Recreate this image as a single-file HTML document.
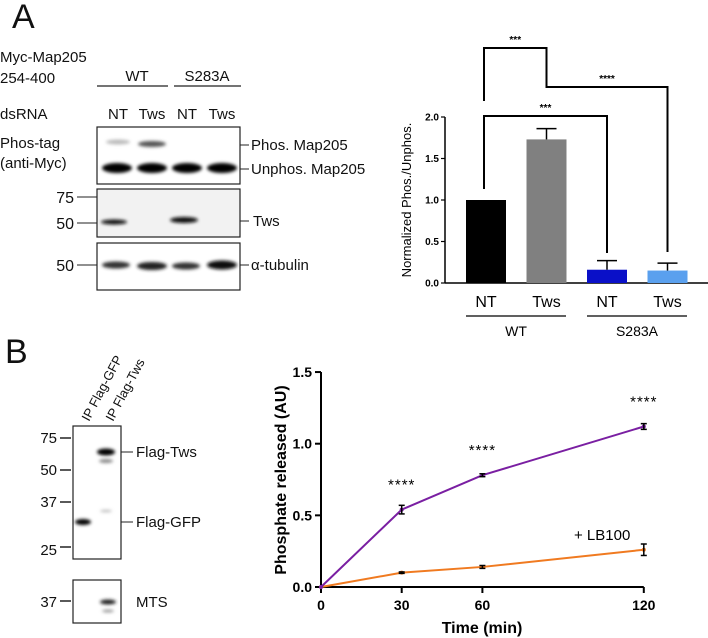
<!DOCTYPE html>
<html><head><meta charset="utf-8"><style>
body{margin:0;background:#fff}
svg{display:block;font-family:"Liberation Sans",sans-serif}
</style></head><body>
<svg width="708" height="638" viewBox="0 0 708 638">
<defs>
<filter id="bl" x="-20%" y="-100%" width="140%" height="300%"><feGaussianBlur stdDeviation="1.6"/></filter>
</defs>
<!-- Panel A blots -->
<g font-size="15" fill="#111">
<text x="12" y="28" font-size="34">A</text>
<text x="0" y="62">Myc-Map205</text>
<text x="0" y="83">254-400</text>
<text x="137" y="81" text-anchor="middle" font-size="15">WT</text>
<line x1="97" y1="86" x2="168" y2="86" stroke="#222" stroke-width="1.2"/>
<text x="207" y="81" text-anchor="middle" font-size="15">S283A</text>
<line x1="174" y1="86" x2="241" y2="86" stroke="#222" stroke-width="1.2"/>
<text x="0" y="119" font-size="15">dsRNA</text>
<text x="118" y="119" text-anchor="middle" font-size="15">NT</text>
<text x="152" y="119" text-anchor="middle" font-size="15">Tws</text>
<text x="187" y="119" text-anchor="middle" font-size="15">NT</text>
<text x="222" y="119" text-anchor="middle" font-size="15">Tws</text>
<text x="0" y="148">Phos-tag</text>
<text x="0" y="168">(anti-Myc)</text>
<rect x="97" y="127" width="143" height="57" fill="#fff" stroke="#222" stroke-width="1.2"/>
<g filter="url(#bl)">
<ellipse cx="118" cy="142" rx="12" ry="2.5" fill="#bbb"/>
<ellipse cx="152" cy="144" rx="14" ry="3" fill="#555"/>
<ellipse cx="117" cy="168" rx="15" ry="5" fill="#000"/>
<ellipse cx="152" cy="168" rx="15" ry="5" fill="#000"/>
<ellipse cx="187" cy="168" rx="15" ry="5" fill="#000"/>
<ellipse cx="222" cy="168" rx="15" ry="5" fill="#000"/>
</g>
<line x1="240" y1="145" x2="249" y2="145" stroke="#222"/><text x="251" y="150">Phos. Map205</text>
<line x1="240" y1="169" x2="249" y2="169" stroke="#222"/><text x="251" y="174">Unphos. Map205</text>
<rect x="97" y="189" width="143" height="48" fill="#f2f2f2" stroke="#222" stroke-width="1.2"/>
<g filter="url(#bl)">
<ellipse cx="114" cy="222" rx="13" ry="2.5" fill="#111"/>
<ellipse cx="184" cy="220" rx="14" ry="3" fill="#111"/>
</g>
<text x="74" y="203" text-anchor="end" font-size="16">75</text><line x1="77" y1="197" x2="97" y2="197" stroke="#222"/>
<text x="74" y="229" text-anchor="end" font-size="16">50</text><line x1="77" y1="223" x2="97" y2="223" stroke="#222"/>
<line x1="240" y1="221" x2="249" y2="221" stroke="#222"/><text x="253" y="226">Tws</text>
<rect x="97" y="243" width="143" height="47" fill="#fff" stroke="#222" stroke-width="1.2"/>
<g filter="url(#bl)">
<ellipse cx="116" cy="265" rx="14" ry="3.5" fill="#333"/>
<ellipse cx="152" cy="266" rx="15" ry="4" fill="#222"/>
<ellipse cx="186" cy="266" rx="14" ry="3.5" fill="#333"/>
<ellipse cx="222" cy="265" rx="15" ry="4.5" fill="#111"/>
</g>
<text x="74" y="271" text-anchor="end" font-size="16">50</text><line x1="77" y1="265" x2="97" y2="265" stroke="#222"/>
<line x1="240" y1="265" x2="249" y2="265" stroke="#222"/><text x="251" y="270">α-tubulin</text>
</g>
<!-- Panel B blots -->
<g font-size="14" fill="#111">
<text x="5" y="363" font-size="34">B</text>
<text transform="translate(89,422) rotate(-62)" font-size="13">IP Flag-GFP</text>
<text transform="translate(113,422) rotate(-62)" font-size="13">IP Flag-Tws</text>
<rect x="73" y="426" width="48" height="133" fill="#fff" stroke="#222" stroke-width="1.2"/>
<g filter="url(#bl)">
<ellipse cx="106" cy="452" rx="9" ry="3.5" fill="#000"/>
<ellipse cx="106" cy="461" rx="7" ry="2" fill="#888"/>
<ellipse cx="83" cy="522" rx="8" ry="3" fill="#000"/>
<ellipse cx="106" cy="511" rx="6" ry="1.2" fill="#bbb"/>
</g>
<text x="57" y="443" text-anchor="end" font-size="15">75</text><line x1="60" y1="438" x2="71" y2="438" stroke="#222" stroke-width="1.5"/>
<text x="57" y="475" text-anchor="end" font-size="15">50</text><line x1="60" y1="470" x2="71" y2="470" stroke="#222" stroke-width="1.5"/>
<text x="57" y="507" text-anchor="end" font-size="15">37</text><line x1="60" y1="502" x2="71" y2="502" stroke="#222" stroke-width="1.5"/>
<text x="57" y="555" text-anchor="end" font-size="15">25</text><line x1="60" y1="547" x2="71" y2="547" stroke="#222" stroke-width="1.5"/>
<line x1="121" y1="452" x2="133" y2="452" stroke="#222"/><text x="136" y="457" font-size="15">Flag-Tws</text>
<line x1="121" y1="522" x2="133" y2="522" stroke="#222"/><text x="136" y="527" font-size="15">Flag-GFP</text>
<rect x="73" y="580" width="48" height="43" fill="#fff" stroke="#222" stroke-width="1.2"/>
<g filter="url(#bl)">
<ellipse cx="108" cy="602" rx="8" ry="2.5" fill="#222"/>
<ellipse cx="108" cy="611" rx="6" ry="1.5" fill="#999"/>
</g>
<text x="57" y="607" text-anchor="end" font-size="15">37</text><line x1="60" y1="601" x2="71" y2="601" stroke="#222" stroke-width="1.5"/>
<text x="136" y="607" font-size="15">MTS</text>
</g>
<g id="bar"></g>
<g id="line"></g>
</svg>
<script>
const barCategories=["NT","Tws","NT","Tws"];
const barValues=[1.0,1.73,0.16,0.15];
const barErrors=[0,0.13,0.11,0.09];
const barColors=["#000","#808080","#0a10c8","#5aa0ee"];
const barTicks=[0,0.5,1.0,1.5,2.0];
const barTickLabels=["0.0","0.5","1.0","1.5","2.0"];
const timePoints=[0,30,60,120];
const controlValues=[0,0.54,0.78,1.12];
const controlErrors=[0,0.03,0.01,0.02];
const lb100Values=[0,0.10,0.14,0.26];
const lb100Errors=[0,0.005,0.01,0.04];
const lineYTicks=[0,0.5,1.0,1.5];
const lineYTickLabels=["0.0","0.5","1.0","1.5"];
const lineXTicks=[0,30,60,120];
const NS="http://www.w3.org/2000/svg";
function mk(p,t,a,txt){const e=document.createElementNS(NS,t);for(const k in a)e.setAttribute(k,a[k]);if(txt!==undefined)e.textContent=txt;p.appendChild(e);return e;}
// Bar chart
const bg=document.getElementById('bar');
const by=v=>283-v*83;
const bx=i=>486+i*60.5;
mk(bg,'line',{x1:445,y1:by(2.0),x2:445,y2:283,stroke:'#000','stroke-width':1.5});
mk(bg,'line',{x1:445,y1:283,x2:708,y2:283,stroke:'#000','stroke-width':1.5});
barTicks.forEach((t,i)=>{
 const l=mk(bg,'line',{x1:441,y1:by(t),x2:445,y2:by(t),stroke:'#000','stroke-width':1.2});
 
 
 const tx=mk(bg,'text',{x:439,y:by(t)+3.5,'text-anchor':'end','font-size':10,'font-weight':'bold'},barTickLabels[i]);
 
 
});
barValues.forEach((v,i)=>{
 const r=mk(bg,'rect',{x:bx(i)-20,y:by(v),width:40,height:283-by(v),fill:barColors[i]});
 
 
 if(barErrors[i]>0){
  mk(bg,'line',{x1:bx(i),y1:by(v),x2:bx(i),y2:by(v+barErrors[i]),stroke:'#000','stroke-width':1.5});
  mk(bg,'line',{x1:bx(i)-10,y1:by(v+barErrors[i]),x2:bx(i)+10,y2:by(v+barErrors[i]),stroke:'#000','stroke-width':1.5});
 }
 const t=mk(bg,'text',{x:bx(i),y:307,'text-anchor':'middle','font-size':16},barCategories[i]);
 
 
});
mk(bg,'line',{x1:466,y1:316,x2:566,y2:316,stroke:'#000','stroke-width':1.2});
mk(bg,'line',{x1:587,y1:316,x2:687,y2:316,stroke:'#000','stroke-width':1.2});
mk(bg,'text',{x:516,y:336,'text-anchor':'middle','font-size':14},'WT');
mk(bg,'text',{x:637,y:336,'text-anchor':'middle','font-size':14},'S283A');
const yl=mk(bg,'text',{transform:'translate(411,200) rotate(-90)','text-anchor':'middle','font-size':13},'Normalized Phos./Unphos.');


function bracket(x1,x2,yTop,yL,yR,label){
 mk(bg,'polyline',{points:`${x1},${yL} ${x1},${yTop} ${x2},${yTop} ${x2},${yR}`,fill:'none',stroke:'#000','stroke-width':2});
 mk(bg,'text',{x:(x1+x2)/2,y:yTop-5,'text-anchor':'middle','font-size':10,'font-weight':'bold'},label);
}
bracket(bx(0)-2,bx(1),48,101,75,'***');
bracket(bx(1),bx(3),87,75,252,'****');
bracket(bx(0)-2,bx(2),116,189,253,'***');
// Line chart
const lg=document.getElementById('line');
const lx=t=>321+t*2.69;
const ly=v=>587-v*143.3;
mk(lg,'line',{x1:321,y1:ly(1.5),x2:321,y2:587,stroke:'#000','stroke-width':2});
mk(lg,'line',{x1:321,y1:587,x2:lx(120),y2:587,stroke:'#000','stroke-width':2});
lineYTicks.forEach((t,i)=>{
 mk(lg,'line',{x1:315,y1:ly(t),x2:321,y2:ly(t),stroke:'#000','stroke-width':2});
 const tx=mk(lg,'text',{x:312,y:ly(t)+5,'text-anchor':'end','font-size':14,'font-weight':'bold'},lineYTickLabels[i]);
 
 
});
lineXTicks.forEach(t=>{
 mk(lg,'line',{x1:lx(t),y1:587,x2:lx(t),y2:593,stroke:'#000','stroke-width':2});
 const tx=mk(lg,'text',{x:lx(t),y:610,'text-anchor':'middle','font-size':14,'font-weight':'bold'},String(t));
 
 
});
const xt=mk(lg,'text',{x:482,y:633,'text-anchor':'middle','font-size':16,'font-weight':'bold'},'Time (min)');


const yt=mk(lg,'text',{transform:'translate(286,480) rotate(-90)','text-anchor':'middle','font-size':16,'font-weight':'bold'},'Phosphate released (AU)');


function series(vals,errs,color,name){
 const p=mk(lg,'polyline',{points:timePoints.map((t,i)=>lx(t)+','+ly(vals[i])).join(' '),fill:'none',stroke:color,'stroke-width':2});
 
 
 timePoints.forEach((t,i)=>{
  mk(lg,'circle',{cx:lx(t),cy:ly(vals[i]),r:2,fill:color});
  if(errs[i]>0){
   const a=ly(vals[i]+errs[i]),b=ly(vals[i]-errs[i]);
   mk(lg,'line',{x1:lx(t),y1:a,x2:lx(t),y2:b,stroke:'#000','stroke-width':1.5});
   mk(lg,'line',{x1:lx(t)-3,y1:a,x2:lx(t)+3,y2:a,stroke:'#000','stroke-width':1.5});
   mk(lg,'line',{x1:lx(t)-3,y1:b,x2:lx(t)+3,y2:b,stroke:'#000','stroke-width':1.5});
  }
 });
}
series(lb100Values,lb100Errors,'#f07a20','lb100-line');
series(controlValues,controlErrors,'#7a1fa2','control-line');
timePoints.forEach((t,i)=>{
 if(i>0)mk(lg,'text',{x:lx(t),y:ly(controlValues[i])-20,'text-anchor':'middle','font-size':15,'letter-spacing':'1'},'****');
});
mk(lg,'text',{x:574,y:540,'font-size':15},'+ LB100');
</script>
</body></html>
